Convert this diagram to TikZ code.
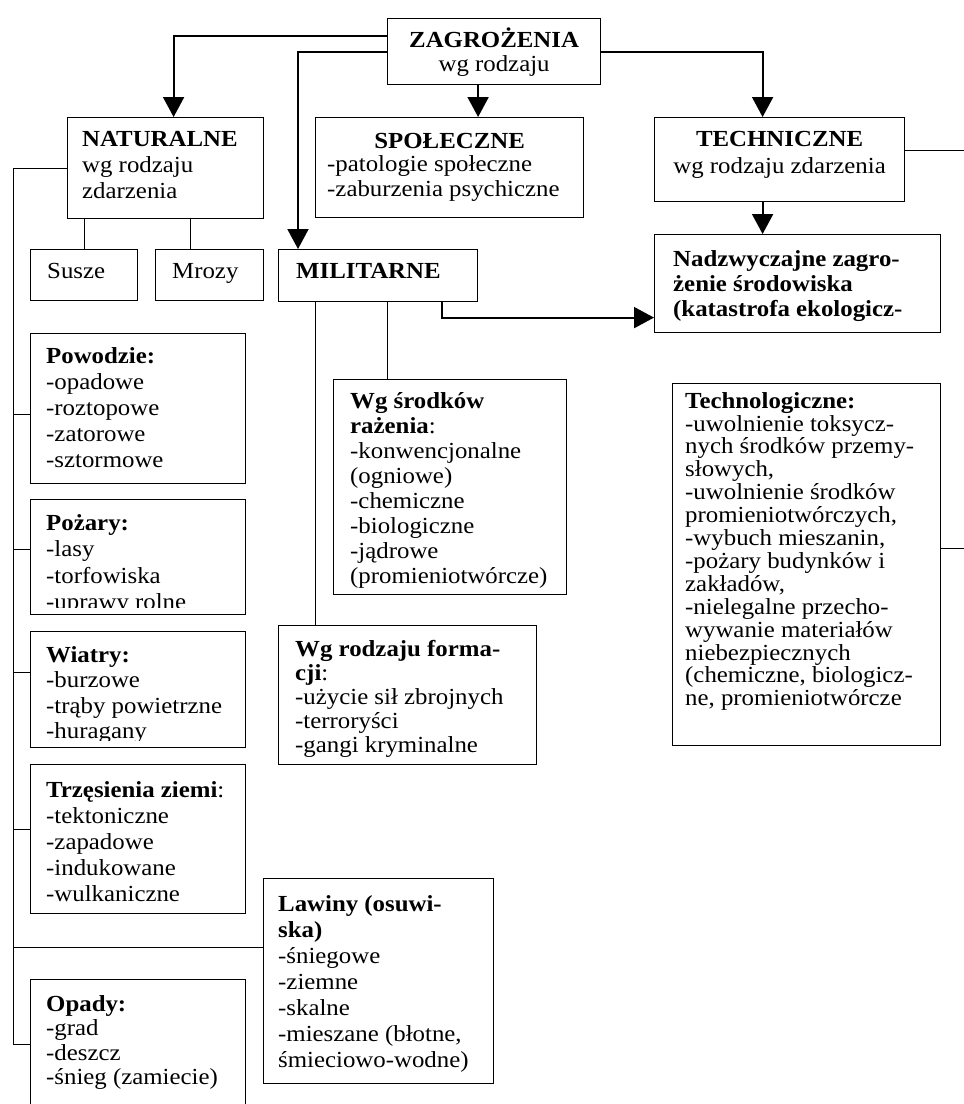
\documentclass[tikz,border=0pt]{standalone}
\usepackage{fontspec}
\setmainfont{Liberation Serif}[FakeStretch=1.08]
\usetikzlibrary{arrows.meta, positioning}

\begin{document}
\begin{tikzpicture}[x=1pt, y=-1pt,
	box/.style={draw, line width=1.2pt, anchor=north west, inner sep=0pt},
	txt/.style={align=left, inner sep=0pt, font=\fontsize{23}{#1}\selectfont},
	txt/.default=26,
	link/.style={line width=1pt},
	arr/.style={line width=2pt, -{Triangle[length=20pt, width=21pt]}}]
	\useasboundingbox (0,0) rectangle (964,1104);
	\coordinate (spine) at (13,0);
	\coordinate (edge) at (964,0);
	% frames
	\node[box, minimum width=213pt, minimum height=66pt] (zagr) at (387,18) {};
	\node[box, minimum width=196pt, minimum height=101pt] (naturalne) at (67,117) {};
	\node[box, minimum width=268pt, minimum height=100pt] (spoleczne) at (315,117) {};
	\node[box, minimum width=250pt, minimum height=84pt] (techniczne) at (654,117) {};
	\node[box, minimum width=107pt, minimum height=51pt] (susze) at (30,249) {};
	\node[box, minimum width=108pt, minimum height=51pt] (mrozy) at (155,249) {};
	\node[box, minimum width=199pt, minimum height=52pt] (militarne) at (278,249) {};
	\node[box, minimum width=286pt, minimum height=98pt] (nadzw) at (654,234) {};
	\node[box, minimum width=215pt, minimum height=150pt] (powodzie) at (30,333) {};
	\node[box, minimum width=215pt, minimum height=115pt] (pozary) at (30,499) {};
	\node[box, minimum width=215pt, minimum height=116pt] (wiatry) at (30,631) {};
	\node[box, minimum width=215pt, minimum height=149pt] (trzesienia) at (30,764) {};
	\node[box, minimum width=215pt, minimum height=130pt] (opady) at (30,979) {};
	\node[box, minimum width=233pt, minimum height=215pt] (srodki) at (333,379) {};
	\node[box, minimum width=258pt, minimum height=139pt] (formacji) at (278,625) {};
	\node[box, minimum width=268pt, minimum height=362pt] (technologiczne) at (672,383) {};
	\node[box, minimum width=230pt, minimum height=205pt] (lawiny) at (263,878) {};
	% texts
	\node[txt=24, align=center, below=10pt of zagr.north] (zagr-t) {\textbf{ZAGROŻENIA}\\wg rodzaju};
	\node[txt, below right=14pt and 15pt of naturalne.north west] (naturalne-t) {\textbf{NATURALNE}\\wg rodzaju\\zdarzenia};
	\node[txt, below=16pt of spoleczne.north] (spoleczne-h) {\textbf{SPOŁECZNE}};
	\node[txt=25, below right=38pt and 12pt of spoleczne.north west] (spoleczne-t) {-patologie społeczne\\-zaburzenia psychiczne};
	\node[txt=26.7, align=center, below=14pt of techniczne.north] (techniczne-t) {\textbf{TECHNICZNE}\\wg rodzaju zdarzenia};
	\node[txt, below right=14pt and 17pt of susze.north west] (susze-t) {Susze};
	\node[txt, below right=14pt and 17pt of mrozy.north west] (mrozy-t) {Mrozy};
	\node[txt, below right=14pt and 18pt of militarne.north west] (militarne-t) {\textbf{MILITARNE}};
	\node[txt=25, below right=16pt and 19pt of nadzw.north west] (nadzw-t) {\textbf{Nadzwyczajne zagro-}\\\textbf{żenie środowiska}\\\textbf{(katastrofa ekologicz-}};
	\node[txt, below right=14pt and 16pt of powodzie.north west] (powodzie-t) {\textbf{Powodzie:}\\-opadowe\\-roztopowe\\-zatorowe\\-sztormowe};
	\begin{scope}
		\clip (pozary.north west) rectangle ([yshift=8pt]pozary.south east);
		\node[txt=26.5, below right=15pt and 16pt of pozary.north west] (pozary-t) {\textbf{Pożary:}\\-lasy\\-torfowiska\\-uprawy rolne};
	\end{scope}
	\begin{scope}
		\clip (wiatry.north west) rectangle ([yshift=8pt]wiatry.south east);
		\node[txt=25.5, below right=15pt and 16pt of wiatry.north west] (wiatry-t) {\textbf{Wiatry:}\\-burzowe\\-trąby powietrzne\\-huragany};
	\end{scope}
	\node[txt, below right=17pt and 16pt of trzesienia.north west] (trzesienia-t) {\textbf{Trzęsienia ziemi}:\\-tektoniczne\\-zapadowe\\-indukowane\\-wulkaniczne};
	\node[txt=24.5, below right=16pt and 16pt of opady.north west] (opady-t) {\textbf{Opady:}\\-grad\\-deszcz\\-śnieg (zamiecie)};
	\node[txt=25, below right=13pt and 17pt of srodki.north west] (srodki-t) {\textbf{Wg środków}\\\textbf{rażenia}:\\-konwencjonalne\\(ogniowe)\\-chemiczne\\-biologiczne\\-jądrowe\\(promieniotwórcze)};
	\node[txt=24, below right=15pt and 17pt of formacji.north west] (formacji-t) {\textbf{Wg rodzaju forma-}\\\textbf{cji}:\\-użycie sił zbrojnych\\-terroryści\\-gangi kryminalne};
	\node[txt=22.9, below right=9pt and 13pt of technologiczne.north west] (technologiczne-t) {\textbf{Technologiczne:}\\-uwolnienie toksycz-\\nych środków przemy-\\słowych,\\-uwolnienie środków\\promieniotwórczych,\\-wybuch mieszanin,\\-pożary budynków i\\zakładów,\\-nielegalne przecho-\\wywanie materiałów\\niebezpiecznych\\(chemiczne, biologicz-\\ne, promieniotwórcze};
	\node[txt, below right=17pt and 15pt of lawiny.north west] (lawiny-t) {\textbf{Lawiny (osuwi-}\\\textbf{ska)}\\-śniegowe\\-ziemne\\-skalne\\-mieszane (błotne,\\śmieciowo-wodne)};
	% arrows
	\draw[arr] ([yshift=16pt]zagr.west) -| ([xshift=8pt]naturalne.north);
	\draw[arr] (zagr.west) -| ([xshift=20pt]militarne.north west);
	\draw[arr] ([xshift=-16pt]zagr.south) -- ([xshift=-16pt]zagr.south |- spoleczne.north);
	\draw[arr] (zagr.east) -| ([xshift=-17pt]techniczne.north);
	\draw[arr] ([xshift=-17pt]techniczne.south) -- ([xshift=-17pt]techniczne.south |- nadzw.north);
	\draw[arr] ([xshift=-36pt]militarne.south east) |- ([yshift=-34pt]nadzw.west);
	% plain links
	\draw[link] (naturalne.west) -| (spine |- opady.west) -- (opady.west);
	\foreach \n/\s in {powodzie/-6, pozary/8, wiatry/17, trzesienia/10, lawiny/34}
		\draw[link] ([yshift=\s pt]\n.west) -- ([yshift=\s pt]\n.west -| spine);
	\draw[link] (naturalne.south -| susze.north) -- (susze.north);
	\draw[link] ([xshift=-19pt]mrozy.north) -- ([xshift=-19pt]mrozy.north |- naturalne.south);
	\draw[link] ([xshift=37pt]militarne.south west) -- ([xshift=37pt]militarne.south west |- formacji.north);
	\draw[link] ([xshift=109pt]militarne.south west) -- ([xshift=109pt]militarne.south west |- srodki.north);
	\draw[link] ([yshift=9pt]techniczne.east) -- ([yshift=9pt]techniczne.east -| edge);
	\draw[link] ([yshift=16pt]technologiczne.east) -- ([yshift=16pt]technologiczne.east -| edge);
\end{tikzpicture}
\end{document}
